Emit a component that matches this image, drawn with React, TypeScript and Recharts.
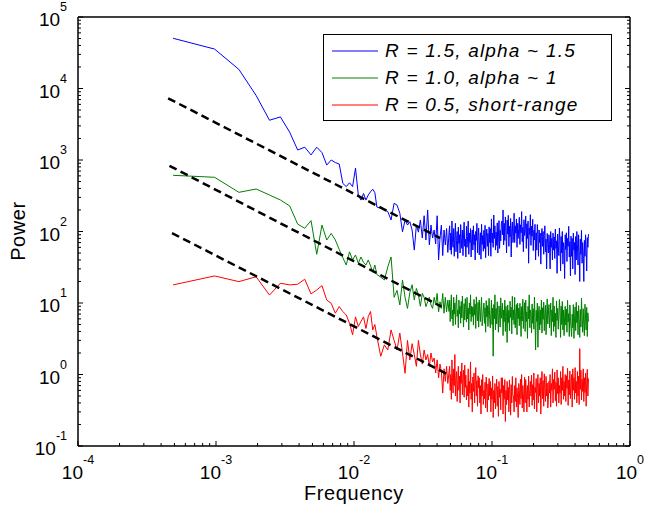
import React from 'react';
import { LineChart, Line, XAxis, YAxis, Legend } from 'recharts';

const FONT = '"Liberation Sans", Arial, Helvetica, sans-serif';

// spectrum bins: frequency = bin / 2048
const LOW_BINS = [1, 2, 3, 4, 5, 6, 7, 8, 9, 10, 11, 12, 13, 14, 15, 16, 17, 18, 19, 20, 21, 22, 23, 24, 25, 26, 27, 28, 29, 30];
const MID_BINS = [32, 34, 36, 38, 40, 42, 44, 46, 48, 50, 52, 54, 56, 58, 60, 62, 64, 66, 68, 70, 72, 74, 76, 78, 80, 82, 84, 86, 88, 90, 92, 94, 96, 98, 100];

// R = 1.5
const BLUE_LOW = [50400, 35600, 18500, 8000, 3600, 4000, 2450, 1380, 1510, 1180, 1510, 1270, 850, 1000, 920, 880, 470, 425, 480, 425, 770, 325, 275, 340, 275, 325, 360, 390, 350, 220];
const BLUE_MID = [211, 200, 190, 145, 248, 234, 180, 99, 145, 123, 137, 105, 55, 123, 98, 145, 81, 166, 76, 200, 65, 123, 81, 105, 67, 166, 40, 81, 123, 46, 105, 65, 110, 51, 98];
const BLUE_HIGH = [
  120, 55, 95, 48, 140, 70, 60, 110, 45, 88,
  130, 52, 75, 100, 42, 115, 68, 90, 50, 125,
  80, 58, 105, 46, 92, 135, 62, 78, 44, 118,
  60, 85, 140, 48, 95, 70, 110, 44, 80, 105,
  55, 120, 65, 90, 40, 100, 75, 130, 50, 85,
  112, 47, 72, 96, 41, 126, 66, 88, 53, 104,
  58, 122, 43, 84, 108, 62, 94, 46, 116, 70,
  110, 45, 150, 70, 95, 60, 170, 80, 120, 55,
  98, 64, 132, 50, 86, 142, 58, 104, 74, 128,
  140, 90, 200, 65, 130, 75, 160, 100, 50, 145,
  92, 168, 62, 118, 84, 152, 44, 110, 136, 70,
  85, 180, 70, 120, 95, 150, 60, 130, 80, 110,
  158, 66, 124, 96, 190, 72, 114, 52, 146, 88,
  102, 164, 58, 128, 80, 140, 36, 112, 90, 172,
  64, 118, 86, 148, 54, 104, 76, 126, 40, 96,
  55, 125, 90, 45, 105, 70, 95, 35, 85, 110,
  62, 100, 48, 88, 120, 52, 78, 30, 94, 68,
  50, 90, 65, 30, 100, 60, 80, 40, 95, 55,
  84, 42, 108, 58, 74, 26, 92, 64, 46, 112,
  75, 28, 85, 50, 100, 35, 70, 60, 22, 90,
  56, 96, 38, 80, 62, 118, 44, 72, 24, 86,
  45, 80, 30, 95, 55, 70, 25, 85, 40, 100,
  66, 34, 90, 52, 20, 78, 48, 104, 36, 70,
  50, 20, 75, 45, 90, 55, 28, 82, 60, 92,
];

// R = 1.0
const GREEN_LOW = [611, 573, 353, 393, 324, 276, 228, 127, 111, 142, 48, 123, 76, 94, 76, 56, 43, 34, 52, 40, 47, 36, 44, 37, 34, 40, 33, 27, 34, 25];
const GREEN_MID = [23, 21, 32, 44, 12, 15, 9.4, 21, 12, 8.4, 14, 18, 11, 16, 13, 9, 13.6, 12, 8.9, 10.4, 12, 9.4, 8.4, 12, 9.4, 13.6, 7.5, 10.4, 8.4, 13.6, 7.2, 12, 7.5, 11, 7.6];
const GREEN_HIGH = [
  11, 5.5, 9, 13, 6, 8, 4.8, 12, 7, 10,
  5, 9.5, 13, 6.5, 8, 4.5, 11, 7, 9, 5.2,
  10.5, 6.2, 12.5, 7.5, 4.6, 9.8, 5.8, 11.5, 8.2, 5.4,
  12, 6, 8.5, 4.2, 10, 7, 13, 5.5, 9, 6.5,
  8.8, 4.9, 11.2, 6.8, 9.6, 4.4, 12.2, 7.2, 5.6, 10.2,
  4.6, 11, 7.5, 5.5, 9, 12, 4.8, 6, 8, 10,
  5.2, 8.6, 3.9, 10.8, 6.4, 9.2, 4.7, 7.8, 11.6, 5.9,
  4.5, 7, 11, 5, 8.5, 1.8, 9.5, 6, 13, 4.2,
  8.4, 5.1, 10.4, 6.6, 3.9, 9.1, 7.3, 4.6, 11.8, 6.1,
  7.5, 10, 3.5, 8, 5.5, 11, 4, 9, 6.5, 2.8,
  9.4, 5.3, 7.9, 4.1, 10.6, 6.3, 8.7, 3.7, 12.4, 5.8,
  8, 5, 12, 4.5, 7, 9.5, 3.6, 10, 6, 8.5,
  4.8, 9.9, 6.7, 3.4, 8.9, 5.6, 11.3, 4.4, 7.6, 10.1,
  4, 11, 5.5, 7.5, 3.2, 9, 6, 13, 4.5, 8,
  6.9, 3.8, 9.7, 5.2, 8.3, 4.3, 12.1, 6.2, 2.2, 7.9,
  5.5, 10, 2.4, 7, 9, 4.2, 8, 5, 11, 3.8,
  8.6, 5.9, 10.3, 4.1, 7.4, 9.3, 3.6, 6.8, 11.4, 5.1,
  7, 9.5, 4.5, 6.5, 10, 3.5, 8, 5.5, 12, 4,
  9.1, 4.7, 7.2, 3.3, 10.7, 5.7, 8.4, 4.3, 6.6, 11.2,
  7.5, 3.3, 9, 5, 10.5, 4.2, 8, 3.5, 6.5, 9,
  4.9, 8.2, 3.9, 10.9, 5.4, 7.1, 3.4, 9.4, 6.3, 4.4,
  3.4, 7, 4.5, 9.5, 3.2, 6, 8.8, 4.1, 10.2, 5.3,
  7.7, 3.6, 9.2, 5.8, 3.3, 8.1, 4.6, 11.7, 6.4, 3.9,
  8.3, 5.0, 3.5, 9.6, 6.1, 4.2, 8.7, 3.4, 7.3, 5.5,
];

// R = 0.5
const RED_LOW = [17.9, 23.9, 19.9, 23.3, 12.9, 18.9, 17.9, 18.3, 21.5, 13.4, 15.2, 17.5, 11, 9.9, 7.2, 8.9, 7.6, 6.8, 5.2, 3.6, 6.4, 4.7, 5.5, 6.4, 4.4, 6.5, 7.6, 4.2, 5.0, 3.4];
const RED_MID = [1.8, 2.6, 2.2, 4.2, 3.0, 2.2, 3.8, 2.0, 1.04, 3.0, 1.6, 2.7, 1.9, 1.3, 3.0, 1.9, 1.4, 2.2, 1.6, 1.9, 1.3, 2.0, 1.5, 1.7, 1.05, 1.6, 0.9, 1.4, 1.1, 0.55, 1.2, 0.8, 1.3, 0.75, 1.1];
const RED_HIGH = [
  1.3, 0.6, 1.0, 0.45, 1.6, 0.8, 0.55, 1.2, 0.7, 1.9,
  0.5, 0.9, 1.1, 0.42, 0.85, 1.3, 0.6, 0.95, 0.4, 1.1,
  0.75, 1.45, 0.52, 0.88, 1.15, 0.48, 1.35, 0.66, 0.98, 0.44,
  0.7, 0.5, 1.2, 0.35, 0.8, 0.55, 1.5, 0.45, 0.75, 0.3,
  0.92, 0.58, 1.05, 0.4, 0.72, 1.25, 0.5, 0.82, 0.36, 0.96,
  0.65, 0.9, 0.4, 0.7, 0.28, 0.85, 0.5, 1.0, 0.38, 0.6,
  0.46, 0.78, 0.34, 0.92, 0.56, 0.3, 0.74, 0.44, 0.88, 0.5,
  0.8, 0.3, 0.65, 0.45, 0.95, 0.25, 0.6, 0.4, 0.75, 0.33,
  0.58, 0.86, 0.36, 0.68, 0.26, 0.8, 0.48, 0.62, 0.32, 0.9,
  0.55, 0.9, 0.28, 0.7, 0.45, 0.85, 0.22, 0.6, 0.38, 0.8,
  0.44, 0.66, 0.3, 0.84, 0.52, 0.27, 0.72, 0.4, 0.94, 0.5,
  0.5, 0.3, 0.7, 0.42, 0.9, 0.35, 0.65, 0.48, 0.25, 0.75,
  0.6, 0.38, 0.86, 0.46, 1.0, 0.34, 0.7, 0.52, 0.3, 0.92,
  0.4, 0.85, 0.55, 0.3, 0.7, 0.45, 0.95, 0.35, 0.6, 0.8,
  0.5, 0.98, 0.37, 0.72, 0.44, 1.05, 0.33, 0.66, 0.56, 0.88,
  0.3, 0.65, 1.0, 0.4, 0.75, 0.5, 0.9, 0.28, 0.7, 1.1,
  0.46, 0.82, 0.36, 1.02, 0.58, 0.42, 0.94, 0.5, 0.76, 0.34,
  0.45, 0.8, 0.55, 1.0, 0.35, 0.75, 0.6, 1.2, 0.4, 0.85,
  0.62, 1.08, 0.43, 0.78, 0.36, 1.16, 0.54, 0.9, 0.4, 0.7,
  0.55, 1.1, 0.38, 0.9, 0.6, 1.3, 0.45, 0.8, 0.5, 1.0,
  0.42, 0.96, 0.64, 1.22, 0.37, 0.84, 0.52, 1.12, 0.46, 0.72,
  1.0, 0.35, 1.2, 0.6, 0.9, 0.45, 1.25, 0.55, 0.8, 0.4,
  1.1, 0.5, 0.95, 0.38, 2.3, 0.62, 1.15, 0.44, 0.86, 0.58,
  1.2, 0.42, 0.9, 0.56, 1.05, 0.36, 0.78, 1.18, 0.5, 0.88,
];

// above bin 100 the bins are dense: sample them evenly on the log axis up to bin 1024
const HIGH_COUNT = BLUE_HIGH.length;
const HIGH_BINS = Array.from({ length: HIGH_COUNT }, (_, i) => 100 * Math.pow(10.24, (i + 1) / HIGH_COUNT));
const FREQS = [...LOW_BINS, ...MID_BINS, ...HIGH_BINS].map((k) => k / 2048);

// power-law fits (dashed), start and end points
const FIT_F0 = [4.5e-4, 4.6e-4, 4.8e-4];
const FIT_F1 = [0.042, 0.043, 0.048];
const FIT_P0 = [7300, 830, 95];
const FIT_P1 = [81, 8.9, 1.0];

const SERIES_NAMES = ['R = 1.5, alpha ~ 1.5', 'R = 1.0, alpha ~ 1', 'R = 0.5, short-range'];
const SERIES_COLORS = ['#0000ff', '#008000', '#ff0000'];

const X_DECADES = [-4, -3, -2, -1];
const Y_DECADES = [-1, 0, 1, 2, 3, 4];
const MINORS = [1, 2, 3, 4, 5, 6, 7, 8, 9];
const X_TICKS = [...X_DECADES.flatMap((e) => MINORS.map((m) => m * Math.pow(10, e))), 1];
const Y_TICKS = [...Y_DECADES.flatMap((e) => MINORS.map((m) => m * Math.pow(10, e))), 1e5];

const toPoints = (vals: number[]) => FREQS.map((f, i) => ({ f, p: vals[i] }));
const seriesData = [
  toPoints([...BLUE_LOW, ...BLUE_MID, ...BLUE_HIGH]),
  toPoints([...GREEN_LOW, ...GREEN_MID, ...GREEN_HIGH]),
  toPoints([...RED_LOW, ...RED_MID, ...RED_HIGH]),
];
const fitData = FIT_F0.map((f0, i) => [
  { f: f0, p: FIT_P0[i] },
  { f: FIT_F1[i], p: FIT_P1[i] },
]);

const AXIS_LINE = { stroke: '#000', strokeWidth: 1.5 };

const LogTick = (props: any) => {
  const { x, y, payload, side } = props;
  const e = Math.log10(payload.value);
  const exp = Math.round(e);
  const major = Math.abs(e - exp) < 1e-6;
  const len = major ? 5 : 3;
  const ln = { stroke: '#000', strokeWidth: 1 };
  const label = (tx: number, ty: number, anchor: string) => (
    <text x={tx} y={ty} textAnchor={anchor} fontFamily={FONT} fontSize={19} fill="#000">
      10<tspan dy={-15} fontSize={12.5}>{exp}</tspan>
    </text>
  );
  if (side === 'bottom') {
    return (
      <g>
        <line x1={x} x2={x} y1={y} y2={y - len} {...ln} />
        {major && label(x, y + 33, 'middle')}
      </g>
    );
  }
  if (side === 'top') return <line x1={x} x2={x} y1={y} y2={y + len} {...ln} />;
  if (side === 'left') {
    return (
      <g>
        <line x1={x} x2={x + len} y1={y} y2={y} {...ln} />
        {major && label(x - 11, y + 9, 'end')}
      </g>
    );
  }
  return <line x1={x} x2={x - len} y1={y} y2={y} {...ln} />;
};

const XTitle = () => (
  <text x={354} y={500} textAnchor="middle" fontFamily={FONT} fontSize={20} letterSpacing={0.6} fill="#000">
    Frequency
  </text>
);

const YTitle = () => (
  <text x={25} y={231} transform="rotate(-90, 25, 231)" textAnchor="middle" fontFamily={FONT} fontSize={20} letterSpacing={0.6} fill="#000">
    Power
  </text>
);

const LegendBox = () => (
  <div
    style={{
      position: 'relative',
      width: 289,
      height: 87,
      boxSizing: 'border-box',
      border: '1px solid #000',
      background: '#fff',
      fontFamily: FONT,
    }}
  >
    {SERIES_NAMES.map((name, i) => (
      <div
        key={name}
        style={{ position: 'absolute', left: 8, top: 4 + i * 27, height: 24, display: 'flex', alignItems: 'center' }}
      >
        <svg width={46} height={4} style={{ marginRight: 7, display: 'block' }}>
          <line x1={0} x2={46} y1={2} y2={2} stroke={SERIES_COLORS[i]} strokeWidth={1} />
        </svg>
        <span style={{ fontSize: 19, fontStyle: 'italic', letterSpacing: 1.2, whiteSpace: 'nowrap', color: '#000' }}>
          {name}
        </span>
      </div>
    ))}
  </div>
);

export default function App() {
  return (
    <div style={{ position: 'absolute', left: 0, top: 0, width: 645, height: 508, background: '#fff' }}>
      <LineChart width={645} height={508} margin={{ top: 0, right: 0, bottom: 0, left: 0 }}>
        <XAxis
          xAxisId="b"
          type="number"
          dataKey="f"
          scale="log"
          domain={[1e-4, 1]}
          allowDataOverflow
          ticks={X_TICKS}
          interval={0}
          height={62}
          tickSize={0}
          tickMargin={0}
          tickLine={false}
          axisLine={AXIS_LINE}
          tick={<LogTick side="bottom" />}
          label={<XTitle />}
        />
        <XAxis
          xAxisId="t"
          orientation="top"
          type="number"
          scale="log"
          domain={[1e-4, 1]}
          allowDataOverflow
          ticks={X_TICKS}
          interval={0}
          height={17}
          tickSize={0}
          tickMargin={0}
          tickLine={false}
          axisLine={AXIS_LINE}
          tick={<LogTick side="top" />}
        />
        <YAxis
          yAxisId="l"
          type="number"
          dataKey="p"
          scale="log"
          domain={[0.1, 1e5]}
          allowDataOverflow
          ticks={Y_TICKS}
          interval={0}
          width={78}
          tickSize={0}
          tickMargin={0}
          tickLine={false}
          axisLine={AXIS_LINE}
          tick={<LogTick side="left" />}
          label={<YTitle />}
        />
        <YAxis
          yAxisId="r"
          orientation="right"
          type="number"
          scale="log"
          domain={[0.1, 1e5]}
          allowDataOverflow
          ticks={Y_TICKS}
          interval={0}
          width={15}
          tickSize={0}
          tickMargin={0}
          tickLine={false}
          axisLine={AXIS_LINE}
          tick={<LogTick side="right" />}
        />
        {seriesData.map((d, i) => (
          <Line
            key={SERIES_NAMES[i]}
            xAxisId="b"
            yAxisId="l"
            data={d}
            dataKey="p"
            name={SERIES_NAMES[i]}
            stroke={SERIES_COLORS[i]}
            strokeWidth={1}
            dot={false}
            activeDot={false}
            isAnimationActive={false}
          />
        ))}
        {fitData.map((d, i) => (
          <Line
            key={`fit-${i}`}
            xAxisId="b"
            yAxisId="l"
            data={d}
            dataKey="p"
            stroke="#000"
            strokeWidth={2.5}
            strokeDasharray="8 4.5"
            dot={false}
            activeDot={false}
            legendType="none"
            isAnimationActive={false}
          />
        ))}
        <Legend
          layout="vertical"
          align="center"
          verticalAlign="middle"
          wrapperStyle={{ left: 323, top: 34, width: 289, height: 87 }}
          content={() => <LegendBox />}
        />
      </LineChart>
    </div>
  );
}
